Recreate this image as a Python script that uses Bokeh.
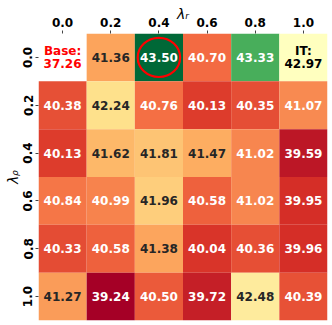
import numpy as np
from bokeh.plotting import figure
from bokeh.models import Range1d, FixedTicker
from bokeh.embed import file_html
from bokeh.resources import INLINE
from bokeh.core.properties import value

# ---- data ----
lam_r = ["0.0", "0.2", "0.4", "0.6", "0.8", "1.0"]
lam_rho = ["0.0", "0.2", "0.4", "0.6", "0.8", "1.0"]
scores = [
    [37.26, 41.36, 43.50, 40.70, 43.33, 42.97],
    [40.38, 42.24, 40.76, 40.13, 40.35, 41.07],
    [40.13, 41.62, 41.81, 41.47, 41.02, 39.59],
    [40.84, 40.99, 41.96, 40.58, 41.02, 39.95],
    [40.33, 40.58, 41.38, 40.04, 40.36, 39.96],
    [41.27, 39.24, 40.50, 39.72, 42.48, 40.39],
]
x_title = "λᵣ"
y_title = "λᵨ"
base_label = "Base:"
it_label = "IT:"
base_cell = (0, 0)
it_cell = (0, 5)
best_cell = (0, 2)

# ---- colormap (RdYlGn, two-slope norm centred on IT score) ----
anchors = ["#a50026", "#d73027", "#f46d43", "#fdae61", "#fee08b", "#ffffbf",
           "#d9ef8b", "#a6d96a", "#66bd63", "#1a9850", "#006837"]
anc = np.array([[int(h[i:i + 2], 16) / 255 for i in (1, 3, 5)] for h in anchors])


def cmap(t):
    t = min(max(t, 0.0), 1.0)
    pos = t * (len(anc) - 1)
    k = min(int(pos), len(anc) - 2)
    f = pos - k
    return anc[k] * (1 - f) + anc[k + 1] * f


vals = [scores[i][j] for i in range(6) for j in range(6) if (i, j) != base_cell]
vmin, vmax = min(vals), max(vals)
vcenter = scores[it_cell[0]][it_cell[1]]


def norm(v):
    if v <= vcenter:
        return 0.5 * (v - vmin) / (vcenter - vmin)
    return 0.5 + 0.5 * (v - vcenter) / (vmax - vcenter)


def to_hex(c):
    return "#%02x%02x%02x" % tuple(int(round(x * 255)) for x in c)


def lum(c):
    lin = [x / 12.92 if x <= 0.03928 else ((x + 0.055) / 1.055) ** 2.4 for x in c]
    return 0.2126 * lin[0] + 0.7152 * lin[1] + 0.0722 * lin[2]


xs, ys, cols = [], [], []
tx, ty, tt, tc = [], [], [], []
for i in range(6):
    for j in range(6):
        if (i, j) == base_cell:
            continue
        v = scores[i][j]
        c = cmap(norm(v))
        xs.append(j + 0.5)
        ys.append(i + 0.5)
        cols.append(to_hex(c))
        if (i, j) == it_cell:
            continue
        tx.append(j + 0.5)
        ty.append(i + 0.5)
        tt.append(f"{v:.2f}")
        tc.append("#262626" if lum(c) > 0.408 else "white")

p = figure(width=330, height=323, x_range=Range1d(0, 6), y_range=Range1d(6, 0),
           x_axis_location="above", toolbar_location=None, output_backend="svg",
           min_border_left=38, min_border_right=3, min_border_top=33, min_border_bottom=3)
p.outline_line_color = None
p.grid.visible = False
p.background_fill_color = "white"

p.rect(x=xs, y=ys, width=1, height=1, fill_color=cols, line_color=None)

font = value("DejaVu Sans")
p.text(x=tx, y=ty, text=tt, text_color=tc, text_font=font, text_font_style="bold",
       text_font_size="12px", text_align="center", text_baseline="middle")

# two-line special cells
sx = [base_cell[1] + 0.5, base_cell[1] + 0.5, it_cell[1] + 0.5, it_cell[1] + 0.5]
sy = [base_cell[0] + 0.5 - 0.13, base_cell[0] + 0.5 + 0.12,
      it_cell[0] + 0.5 - 0.13, it_cell[0] + 0.5 + 0.12]
st = [base_label, f"{scores[base_cell[0]][base_cell[1]]:.2f}",
      it_label, f"{scores[it_cell[0]][it_cell[1]]:.2f}"]
sc = ["red", "red", "black", "black"]
p.text(x=sx, y=sy, text=st, text_color=sc, text_font=font, text_font_style="bold",
       text_font_size="12px", text_align="center", text_baseline="middle")

# highlight best
p.ellipse(x=[best_cell[1] + 0.5], y=[best_cell[0] + 0.5], width=0.88, height=0.82,
          fill_color=None, line_color="red", line_width=2.2)

# axes
for ax, labs, title in ((p.xaxis[0], lam_r, x_title), (p.yaxis[0], lam_rho, y_title)):
    ax.ticker = FixedTicker(ticks=[k + 0.5 for k in range(len(labs))])
    ax.major_label_overrides = {k + 0.5: lab for k, lab in enumerate(labs)}
    ax.axis_line_color = None
    ax.major_tick_out = 3
    ax.major_tick_in = 0
    ax.minor_tick_out = 0
    ax.minor_tick_in = 0
    ax.major_tick_line_color = "#444444"
    ax.major_label_text_font = "DejaVu Sans"
    ax.major_label_text_font_style = "bold"
    ax.major_label_text_font_size = "12px"
    ax.major_label_text_color = "black"
    ax.axis_label = title
    ax.axis_label_text_font = "DejaVu Sans"
    ax.axis_label_text_font_style = "italic"
    ax.axis_label_text_font_size = "14px"
    ax.axis_label_text_color = "black"
p.xaxis.major_label_standoff = 4
p.yaxis.major_label_standoff = 3
p.xaxis.axis_label_standoff = -7
p.yaxis.axis_label_standoff = 0
p.yaxis.major_label_orientation = "vertical"

open("out.html", "w").write(file_html(p, INLINE))
